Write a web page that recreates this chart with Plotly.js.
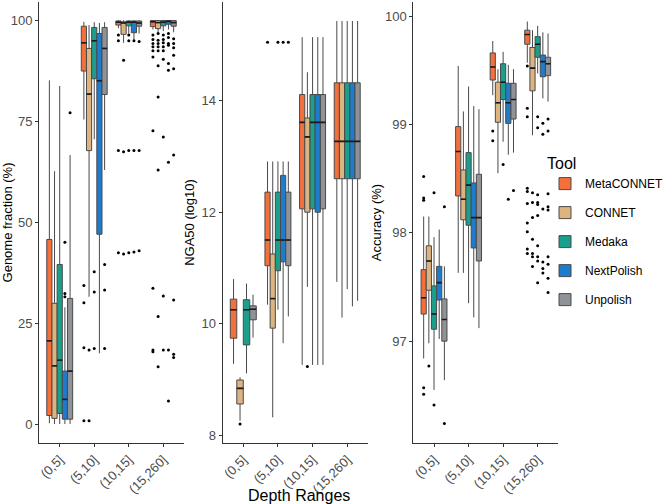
<!DOCTYPE html>
<html>
<head>
<meta charset="utf-8">
<script src="https://cdn.plot.ly/plotly-3.0.1.min.js"></script>
<style>
  html, body { margin: 0; padding: 0; background: #ffffff; }
  #chart { width: 667px; height: 504px; }
</style>
</head>
<body>
<div id="chart"></div>
<script>
const tools = ['MetaCONNET', 'CONNET', 'Medaka', 'NextPolish', 'Unpolish'];
const toolColors = ['#F4703A', '#DDB47F', '#1B9E8C', '#1F7BCC', '#8F9296'];
const depthRanges = ['(0,5]', '(5,10]', '(10,15]', '(15,260]'];

// each box: [lower whisker, Q1, median, Q3, upper whisker]; rows = tools, columns = depth ranges
const genomeBoxes = [
    [[0.2, 2.1, 20.6, 45.7, 85.1], [75.4, 87.4, 94.4, 98.5, 99.6], [98.0, 98.8, 99.5, 99.8, 100], [97.7, 98.4, 99.6, 99.9, 100]],
    [[0, 1.4, 14.4, 29.9, 62.6], [31.5, 67.7, 81.7, 93.0, 98.8], [94.4, 96.5, 99.3, 99.6, 100], [96.7, 97.9, 99.4, 99.9, 100]],
    [[0, 2.6, 15.8, 39.5, 83.7], [70.5, 85.5, 94.9, 98.2, 99.5], [96.7, 98.6, 99.5, 99.8, 100], [97.3, 98.6, 99.5, 99.9, 100]],
    [[0, 1.2, 6.1, 13.1, 28.9], [17.5, 47.0, 85.0, 96.7, 99.3], [94.6, 96.9, 99.5, 99.8, 100], [97.7, 99.0, 99.7, 99.9, 100]],
    [[0, 1.2, 13.1, 31.1, 66.6], [62.9, 81.6, 93.0, 98.2, 99.5], [96.7, 98.5, 99.3, 99.8, 100], [97.0, 98.5, 99.4, 99.9, 100]]
];
const genomeOutliers = [
    [[], [34.3, 30.0, 18.9, 0.8], [96.3, 94.9, 67.7, 42.4], [96.3, 95.2, 94.2, 93.4, 92.4, 90.9, 72.6, 33.6, 18.3, 17.9]],
    [[], [18.3, 0.8], [90.1, 67.4, 42.1], [96.7, 95.0, 94.2, 93.4, 92.4, 88.7, 81.0, 62.9, 26.6, 14.2]],
    [[], [37.7, 32.7, 18.7], [96.3, 94.9, 67.7, 42.4], [96.3, 95.2, 94.4, 93.4, 92.4, 90.3, 71.1, 31.7, 18.3]],
    [[45.0, 32.3, 31.5], [], [94.9, 67.7, 42.6], [96.7, 95.7, 94.2, 93.8, 89.3, 87.6, 64.8, 18.3, 5.7]],
    [[77.1], [39.5, 33.2, 18.7], [94.7, 67.7, 42.9], [95.4, 94.2, 93.2, 91.3, 88.0, 66.6, 30.7, 17.3, 16.5]]
];

const ngaBoxes = [
    [[9.28, 9.74, 10.25, 10.44, 10.80], [10.34, 11.04, 11.50, 12.36, 12.91], [9.26, 12.06, 13.61, 14.11, 15.14], [10.75, 12.60, 13.27, 14.32, 15.43]],
    [[8.26, 8.56, 8.84, 8.99, 9.04], [8.32, 9.92, 10.45, 11.25, 12.91], [10.66, 12.00, 13.35, 13.69, 14.51], [10.11, 12.60, 13.27, 14.32, 15.43]],
    [[9.11, 9.62, 10.25, 10.43, 10.72], [10.25, 10.95, 11.50, 12.36, 12.91], [9.26, 12.06, 13.61, 14.11, 15.14], [10.62, 12.60, 13.27, 14.32, 15.43]],
    [null, [9.65, 11.11, 11.50, 12.66, 12.91], [9.26, 12.00, 13.61, 14.11, 15.14], [10.31, 12.60, 13.27, 14.32, 15.43]],
    [[9.75, 10.07, 10.26, 10.32, 10.52], [10.13, 11.04, 11.50, 12.36, 12.91], [9.26, 12.06, 13.61, 14.11, 15.14], [10.41, 12.60, 13.27, 14.32, 15.43]]
];
const ngaOutliers = [
    [[], [15.05], [], []],
    [[8.20], [], [9.23], []],
    [[], [15.05], [], []],
    [[], [15.05], [], []],
    [[], [15.05], [], []]
];

const accuracyBoxes = [
    [[96.84, 97.25, 97.40, 97.66, 98.15], [97.63, 98.34, 98.75, 98.98, 99.54], [99.27, 99.41, 99.53, 99.66, 99.77], [99.57, 99.74, 99.83, 99.87, 99.95]],
    [[96.98, 97.47, 97.74, 97.88, 98.15], [97.63, 98.12, 98.31, 98.58, 99.12], [98.55, 99.02, 99.20, 99.39, 99.51], [98.90, 99.31, 99.52, 99.71, 99.87]],
    [[96.55, 97.11, 97.25, 97.51, 97.96], [97.35, 98.07, 98.44, 98.74, 99.35], [98.84, 99.23, 99.39, 99.56, 99.67], [99.47, 99.62, 99.74, 99.81, 99.91]],
    [[97.02, 97.38, 97.54, 97.69, 98.03], [97.22, 97.86, 98.14, 98.46, 99.17], [98.72, 99.01, 99.20, 99.38, 99.55], [99.24, 99.44, 99.58, 99.64, 99.85]],
    [[96.64, 97.00, 97.20, 97.39, 97.69], [97.12, 97.74, 98.14, 98.54, 99.14], [98.74, 99.05, 99.23, 99.38, 99.51], [99.21, 99.45, 99.56, 99.62, 99.84]]
];
const accuracyOutliers = [
    [[98.52, 98.32, 98.30, 96.57, 96.51], [], [98.94, 98.85], [99.54, 99.15, 99.07, 98.41, 98.38, 98.27, 98.09, 98.01, 97.85, 97.81]],
    [[96.77], [], [], [98.37, 98.28, 98.14, 97.94, 97.81, 97.78, 97.69]],
    [[98.37, 96.41], [], [98.63], [99.07, 98.97, 98.35, 98.28, 98.26, 98.16, 97.88, 97.78, 97.74, 97.54]],
    [[], [], [98.31], [99.01, 98.91, 98.22, 97.73, 97.67, 97.63]],
    [[98.24, 96.24], [], [98.39], [99.05, 98.94, 98.36, 98.24, 98.21, 97.78, 97.71, 97.58, 97.45]]
];

const FONT = 'Arial, "Liberation Sans", sans-serif';
const W = 667;

// one box trace per tool and depth range, dodged inside the category like ggplot
function panelTraces(stats, outliers, axisId, withLegend) {
    let traces = [];
    depthRanges.forEach((range, c) => {
        const present = [];
        for (let i = 0; i < tools.length; i++) {
            if (stats[i][c] !== null) present.push(i);
        }
        const w = 0.75 / present.length;
        present.forEach((ti, k) => {
            const xPos = c + 1 + (k - (present.length - 1) / 2) * w;
            const s = stats[ti][c];
            traces.push({
                type: 'box',
                name: tools[ti],
                legendgroup: tools[ti],
                showlegend: withLegend && c === 0,
                x: [xPos],
                lowerfence: [s[0]],
                q1: [s[1]],
                median: [s[2]],
                q3: [s[3]],
                upperfence: [s[4]],
                width: w,
                whiskerwidth: 0,
                boxpoints: false,
                fillcolor: toolColors[ti],
                line: {color: '#4a4a4a', width: 1},
                xaxis: 'x' + axisId,
                yaxis: 'y' + axisId,
                hoverinfo: 'skip'
            });
            // darker, thicker median bar as in the ggplot original
            traces.push({
                type: 'scatter',
                mode: 'lines',
                x: [xPos - w / 2, xPos + w / 2],
                y: [s[2], s[2]],
                line: {color: '#1a1a1a', width: 1.6},
                showlegend: false,
                xaxis: 'x' + axisId,
                yaxis: 'y' + axisId,
                hoverinfo: 'skip'
            });
            const pts = outliers[ti][c];
            if (pts.length > 0) {
                traces.push({
                    type: 'scatter',
                    mode: 'markers',
                    x: pts.map(() => xPos),
                    y: pts,
                    marker: {size: 3, color: '#000000'},
                    showlegend: false,
                    xaxis: 'x' + axisId,
                    yaxis: 'y' + axisId,
                    hoverinfo: 'skip'
                });
            }
        });
    });
    return traces;
}

var data = []
    .concat(panelTraces(genomeBoxes, genomeOutliers, '', true))
    .concat(panelTraces(ngaBoxes, ngaOutliers, '2', false))
    .concat(panelTraces(accuracyBoxes, accuracyOutliers, '3', false));

function xAxis(left, right, anchor) {
    return {
        domain: [left / W, right / W],
        anchor: anchor,
        range: [0.4, 4.6],
        tickmode: 'array',
        tickvals: [1, 2, 3, 4],
        ticktext: depthRanges,
        tickangle: -45,
        tickfont: {family: FONT, size: 13, color: '#4d4d4d'},
        showline: true,
        linecolor: '#333333',
        linewidth: 1,
        ticks: 'outside',
        ticklen: 3,
        tickcolor: '#333333',
        showgrid: false,
        zeroline: false
    };
}

function yAxis(anchor, range, ticks, title, standoff) {
    return {
        anchor: anchor,
        range: range,
        tickmode: 'array',
        tickvals: ticks,
        tickfont: {family: FONT, size: 13, color: '#4d4d4d'},
        showline: true,
        linecolor: '#333333',
        linewidth: 1,
        ticks: 'outside',
        ticklen: 3,
        tickcolor: '#333333',
        showgrid: false,
        zeroline: false,
        title: {
            text: title,
            font: {family: FONT, size: 13, color: '#000000'},
            standoff: standoff
        }
    };
}

var layout = {
    width: 667,
    height: 504,
    margin: {l: 0, r: 0, t: 2, b: 61, autoexpand: false},
    paper_bgcolor: '#ffffff',
    plot_bgcolor: '#ffffff',
    boxmode: 'overlay',
    xaxis: xAxis(39, 184, 'y'),
    xaxis2: xAxis(222.5, 368, 'y2'),
    xaxis3: xAxis(413.3, 558.4, 'y3'),
    yaxis: yAxis('x', [-4.7, 104.5], [0, 25, 50, 75, 100], 'Genome fraction (%)', 2),
    yaxis2: yAxis('x2', [7.86, 15.77], [8, 10, 12, 14], 'NGA50 (log10)', 3),
    yaxis3: yAxis('x3', [96.06, 100.13], [97, 98, 99, 100], 'Accuracy (%)', 0),
    showlegend: true,
    legend: {
        x: 545 / W,
        xanchor: 'left',
        y: 0.48,
        yanchor: 'middle',
        itemwidth: 30,
        font: {family: FONT, size: 12, color: '#000000'},
        title: {text: 'Tool', font: {family: FONT, size: 16, color: '#000000'}},
        bgcolor: 'rgba(0,0,0,0)'
    },
    annotations: [{
        text: 'Depth Ranges',
        xref: 'paper',
        yref: 'paper',
        x: 298.5 / W,
        y: -52 / 441,
        xanchor: 'center',
        yanchor: 'middle',
        showarrow: false,
        font: {family: FONT, size: 16, color: '#000000'}
    }]
};

Plotly.newPlot('chart', data, layout, {displayModeBar: false, staticPlot: true});
</script>
</body>
</html>
